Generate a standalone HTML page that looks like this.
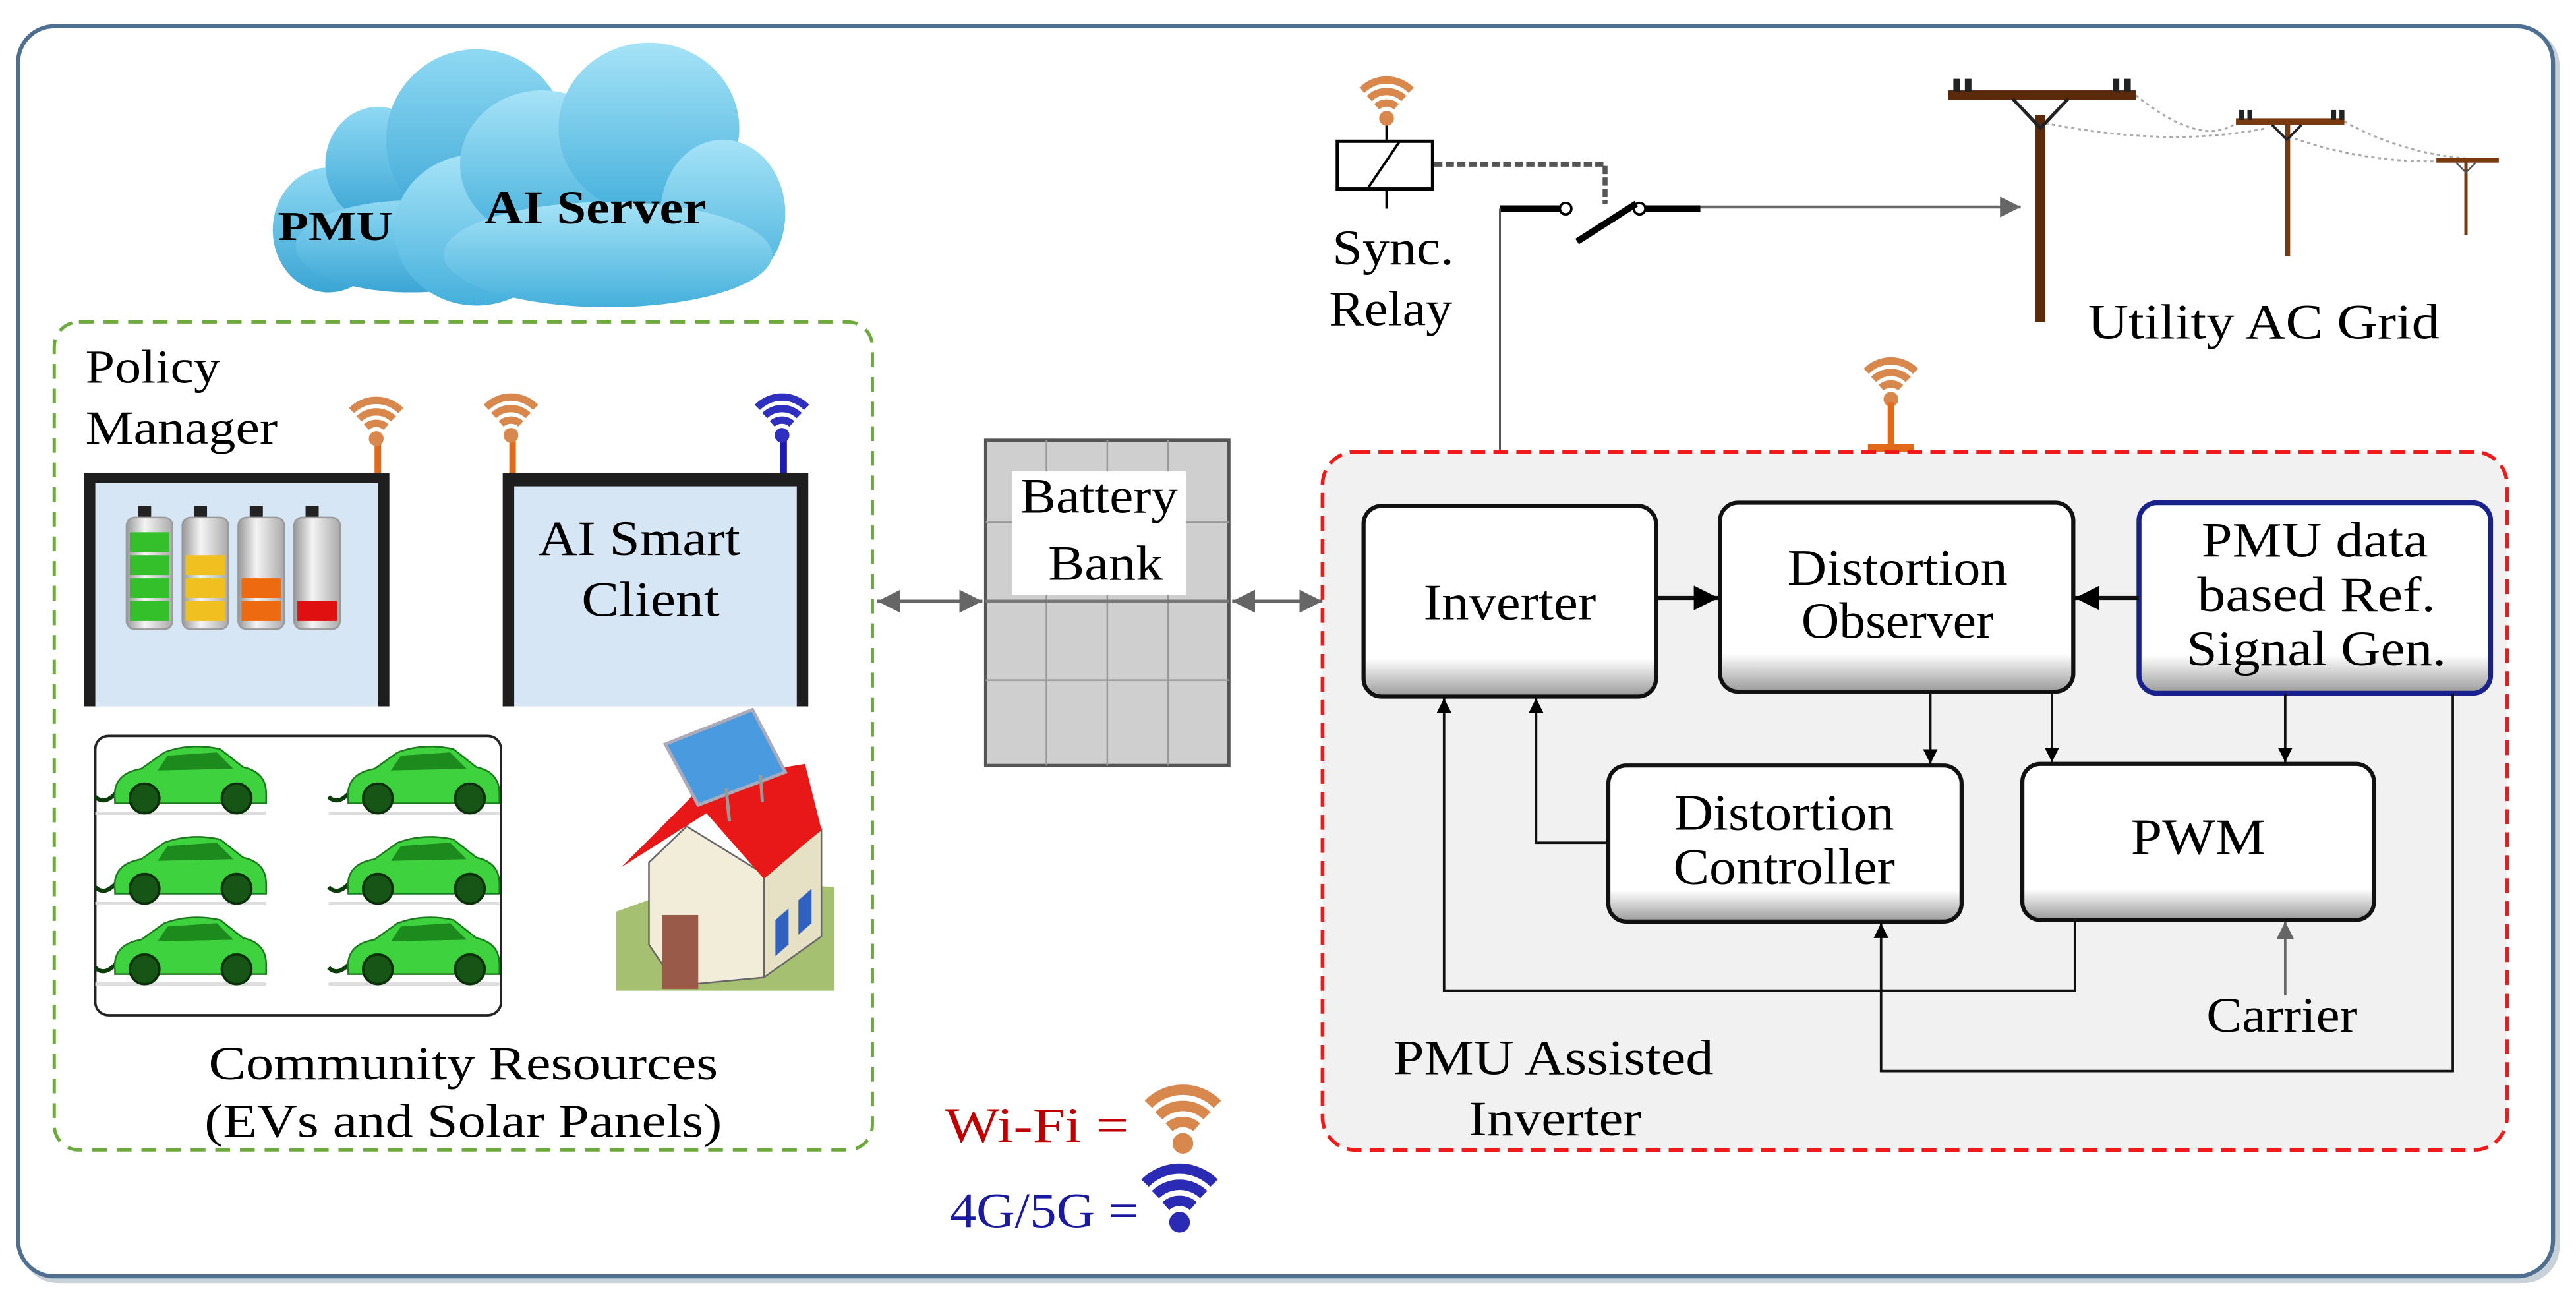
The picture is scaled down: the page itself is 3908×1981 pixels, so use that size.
<!DOCTYPE html>
<html><head><meta charset="utf-8"><style>
html,body{margin:0;padding:0;background:#fff;}
svg{display:block;}
text{font-family:"Liberation Serif",serif;fill:#000;}
</style></head><body>
<svg width="3908" height="1981" viewBox="0 0 1568 795" preserveAspectRatio="none" xmlns="http://www.w3.org/2000/svg">
<defs>
<linearGradient id="cl" x1="0" y1="0" x2="0" y2="1"><stop offset="0" stop-color="#a6e3f7"/><stop offset="1" stop-color="#45b0dc"/></linearGradient>
<linearGradient id="cl2" x1="0" y1="0" x2="0" y2="1"><stop offset="0" stop-color="#8fd9f3"/><stop offset="1" stop-color="#3aa5d4"/></linearGradient>
<linearGradient id="bx" x1="0" y1="0" x2="0" y2="1"><stop offset="0" stop-color="#fff"/><stop offset="0.8" stop-color="#fff"/><stop offset="1" stop-color="#9a9a9a"/></linearGradient>
<linearGradient id="bt" x1="0" y1="0" x2="1" y2="0"><stop offset="0" stop-color="#999"/><stop offset="0.4" stop-color="#f4f4f4"/><stop offset="1" stop-color="#aaa"/></linearGradient>
<marker id="ab" viewBox="0 0 10 10" refX="10" refY="5" markerWidth="6" markerHeight="6" orient="auto-start-reverse"><path d="M0,0L10,5L0,10Z" fill="#000"/></marker>
<marker id="ag2" viewBox="0 0 10 10" refX="10" refY="5" markerWidth="7" markerHeight="7" orient="auto-start-reverse"><path d="M0,0L10,5L0,10Z" fill="#666"/></marker>
<g id="wifi"><circle cx="0" cy="0" r="4"/><path d="M-6,-7 A9,9 0 0 1 6,-7" fill="none" stroke-width="4.5"/><path d="M-10.5,-12 A15,15 0 0 1 10.5,-12" fill="none" stroke-width="4.5"/><path d="M-15,-17 A21,21 0 0 1 15,-17" fill="none" stroke-width="4.5"/></g>
<g id="car">
<line x1="0" y1="40" x2="104" y2="40" stroke="#ddd" stroke-width="2"/>
<path d="M14,26 Q6,36 0,30" fill="none" stroke="#0b3d0b" stroke-width="2.5"/>
<path d="M12,32 Q10,16 28,13 L42,3 Q58,-3 76,1 L90,12 Q104,15 104,28 L104,34 L12,34 Z" fill="#3fd23f" stroke="#1b7a1b" stroke-width="1"/>
<path d="M44,5 L74,3 L84,13 L38,14 Z" fill="#1c8a1c"/>
<circle cx="30" cy="31" r="9" fill="#175517" stroke="#0a300a" stroke-width="1.5"/>
<circle cx="86" cy="31" r="9" fill="#175517" stroke="#0a300a" stroke-width="1.5"/>
</g>
</defs>

<!-- outer frame -->
<rect x="13" y="18" width="1545" height="763" rx="22" fill="#c8d0d8"/>
<rect x="11" y="16" width="1543" height="761" rx="22" fill="#fff" stroke="#4e6f8f" stroke-width="2.5"/>

<!-- cloud -->
<g fill="url(#cl2)">
<ellipse cx="200" cy="140" rx="34" ry="38"/><ellipse cx="230" cy="100" rx="32" ry="35"/><ellipse cx="290" cy="85" rx="55" ry="55"/><ellipse cx="250" cy="150" rx="70" ry="28"/>
</g>
<g fill="url(#cl)">
<ellipse cx="290" cy="140" rx="50" ry="46"/><ellipse cx="330" cy="100" rx="50" ry="45"/><ellipse cx="395" cy="78" rx="55" ry="52"/><ellipse cx="440" cy="130" rx="38" ry="45"/><ellipse cx="370" cy="155" rx="100" ry="32"/>
</g>
<text x="169" y="146" font-size="25" font-weight="bold" textLength="70" lengthAdjust="spacingAndGlyphs">PMU</text>
<text x="295" y="136" font-size="29" font-weight="bold" textLength="135" lengthAdjust="spacingAndGlyphs">AI Server</text>

<!-- green dashed box -->
<rect x="33" y="196" width="498" height="504" rx="15" fill="none" stroke="#6aab3c" stroke-width="2" stroke-dasharray="9,6"/>
<text x="52" y="233" font-size="29" textLength="82" lengthAdjust="spacingAndGlyphs">Policy</text>
<text x="52" y="270" font-size="29" textLength="117" lengthAdjust="spacingAndGlyphs">Manager</text>

<!-- antennas -->
<line x1="230" y1="268" x2="230" y2="290" stroke="#e06a1a" stroke-width="4"/>
<use href="#wifi" x="229" y="267" fill="#d9884d" stroke="#d9884d"/>
<line x1="312" y1="268" x2="312" y2="288" stroke="#e06a1a" stroke-width="4"/>
<use href="#wifi" x="311" y="265" fill="#d9884d" stroke="#d9884d"/>
<line x1="477" y1="268" x2="477" y2="288" stroke="#1a1ab0" stroke-width="4"/>
<use href="#wifi" x="476" y="265" fill="#3030c0" stroke="#3030c0"/>

<!-- monitor 1 -->
<rect x="51" y="288" width="186" height="142" fill="#1e1e1e"/>
<rect x="58" y="294" width="172" height="136" fill="#d6e6f4"/>
<g>
<rect x="84" y="308" width="8" height="8" fill="#222"/><rect x="77" y="315" width="28" height="68" rx="5" fill="url(#bt)" stroke="#999"/>
<rect x="79" y="324" width="24" height="12" fill="#33c02a"/><rect x="79" y="338" width="24" height="12" fill="#33c02a"/><rect x="79" y="352" width="24" height="12" fill="#33c02a"/><rect x="79" y="366" width="24" height="12" fill="#33c02a"/>
<rect x="118" y="308" width="8" height="8" fill="#222"/><rect x="111" y="315" width="28" height="68" rx="5" fill="url(#bt)" stroke="#999"/>
<rect x="113" y="338" width="24" height="12" fill="#f0c020"/><rect x="113" y="352" width="24" height="12" fill="#f0c020"/><rect x="113" y="366" width="24" height="12" fill="#f0c020"/>
<rect x="152" y="308" width="8" height="8" fill="#222"/><rect x="145" y="315" width="28" height="68" rx="5" fill="url(#bt)" stroke="#999"/>
<rect x="147" y="352" width="24" height="12" fill="#ee6a10"/><rect x="147" y="366" width="24" height="12" fill="#ee6a10"/>
<rect x="186" y="308" width="8" height="8" fill="#222"/><rect x="179" y="315" width="28" height="68" rx="5" fill="url(#bt)" stroke="#999"/>
<rect x="181" y="366" width="24" height="12" fill="#e01010"/>
</g>
<!-- monitor 2 -->
<rect x="306" y="288" width="186" height="142" fill="#1e1e1e"/>
<rect x="313" y="296" width="172" height="134" fill="#d6e6f4"/>
<text x="389" y="338" font-size="30" text-anchor="middle" textLength="123" lengthAdjust="spacingAndGlyphs">AI Smart</text>
<text x="396" y="375" font-size="30" text-anchor="middle" textLength="84" lengthAdjust="spacingAndGlyphs">Client</text>

<!-- EV box -->
<rect x="58" y="448" width="247" height="170" rx="8" fill="#fff" stroke="#222" stroke-width="1.5"/>
<use href="#car" x="58" y="455"/><use href="#car" x="200" y="455"/>
<use href="#car" x="58" y="510"/><use href="#car" x="200" y="510"/>
<use href="#car" x="58" y="559"/><use href="#car" x="200" y="559"/>

<!-- house -->
<path d="M375,555 L430,535 L508,540 L508,603 L375,603 Z" fill="#a5c070"/>
<path d="M418,503 L465,532 L465,595 L412,600 L395,575 L395,525 Z" fill="#f2edd8" stroke="#666"/>
<path d="M465,532 L500,505 L500,570 L465,595 Z" fill="#e6e0c4" stroke="#666"/>
<path d="M378,528 L418,488 L430,475 L490,465 L500,505 L465,535 L430,495 Z" fill="#e81818"/>
<rect x="403" y="557" width="22" height="45" fill="#9a5a4a"/>
<path d="M472,560 L480,553 L480,575 L472,582 Z" fill="#3060c0"/><path d="M486,548 L494,541 L494,562 L486,569 Z" fill="#3060c0"/>
<path d="M405,453 L458,432 L478,470 L425,490 Z" fill="#4a9ae0" stroke="#aab" stroke-width="2"/>
<line x1="442" y1="480" x2="444" y2="500" stroke="#999" stroke-width="2"/><line x1="463" y1="472" x2="464" y2="488" stroke="#999" stroke-width="2"/>

<text x="282" y="657" font-size="29" text-anchor="middle" textLength="310" lengthAdjust="spacingAndGlyphs">Community  Resources</text>
<text x="282" y="692" font-size="29" text-anchor="middle" textLength="315" lengthAdjust="spacingAndGlyphs">(EVs and Solar Panels)</text>

<!-- legend -->
<text x="575" y="695" font-size="30" style="fill:#c00000" textLength="112" lengthAdjust="spacingAndGlyphs">Wi-Fi =</text>
<g transform="translate(720,696) scale(1.4)"><use href="#wifi" fill="#d9884d" stroke="#d9884d"/></g>
<text x="578" y="747" font-size="30" style="fill:#1a1aa0" textLength="115" lengthAdjust="spacingAndGlyphs">4G/5G =</text>
<g transform="translate(718,744) scale(1.4)"><use href="#wifi" fill="#2a2ab5" stroke="#2a2ab5"/></g>

<!-- battery bank -->
<rect x="600" y="268" width="148" height="198" fill="#cfcfcf" stroke="#555" stroke-width="2"/>
<g stroke="#999" stroke-width="1">
<line x1="637" y1="268" x2="637" y2="466"/><line x1="674" y1="268" x2="674" y2="466"/><line x1="711" y1="268" x2="711" y2="466"/>
<line x1="600" y1="318" x2="748" y2="318"/><line x1="600" y1="366" x2="748" y2="366" stroke="#777" stroke-width="2"/><line x1="600" y1="414" x2="748" y2="414"/>
</g>
<rect x="616" y="287" width="106" height="75" fill="#fff"/>
<text x="669" y="312" font-size="30" text-anchor="middle" textLength="96" lengthAdjust="spacingAndGlyphs">Battery</text>
<text x="673" y="353" font-size="30" text-anchor="middle" textLength="70" lengthAdjust="spacingAndGlyphs">Bank</text>

<!-- double arrows -->
<line x1="534" y1="366" x2="598" y2="366" stroke="#666" stroke-width="2" marker-start="url(#ag2)" marker-end="url(#ag2)"/>
<line x1="750" y1="366" x2="805" y2="366" stroke="#666" stroke-width="2" marker-start="url(#ag2)" marker-end="url(#ag2)"/>

<!-- sync relay -->
<line x1="844" y1="75" x2="844" y2="85" stroke="#000" stroke-width="1.5"/>
<use href="#wifi" x="844" y="72" fill="#d9884d" stroke="#d9884d"/>
<rect x="814" y="86" width="58" height="29" fill="#fff" stroke="#000" stroke-width="2"/>
<line x1="833" y1="114" x2="852" y2="86" stroke="#000" stroke-width="1.5"/>
<line x1="844" y1="115" x2="844" y2="127" stroke="#000" stroke-width="1.5"/>
<path d="M873,100 L977,100 L977,124" fill="none" stroke="#555" stroke-width="3" stroke-dasharray="5,2"/>
<text x="811" y="161" font-size="30" textLength="74" lengthAdjust="spacingAndGlyphs">Sync.</text>
<text x="809" y="198" font-size="30" textLength="75" lengthAdjust="spacingAndGlyphs">Relay</text>
<line x1="913" y1="127" x2="953" y2="127" stroke="#000" stroke-width="4"/>
<line x1="997" y1="127" x2="1035" y2="127" stroke="#000" stroke-width="4"/>
<circle cx="953" cy="127" r="3.5" fill="#fff" stroke="#000" stroke-width="1.5"/>
<circle cx="998" cy="127" r="3.5" fill="#fff" stroke="#000" stroke-width="1.5"/>
<line x1="960" y1="147" x2="996" y2="124" stroke="#000" stroke-width="4"/>
<line x1="1035" y1="126" x2="1230" y2="126" stroke="#666" stroke-width="1.8" marker-end="url(#ag2)"/>
<line x1="913" y1="127" x2="913" y2="300" stroke="#555" stroke-width="1.2" marker-end="url(#ag2)"/>

<!-- poles -->
<g fill="none" stroke="#aaa" stroke-width="1.2" stroke-dasharray="2,2">
<path d="M1300,58 Q1340,90 1361,75"/><path d="M1245,75 Q1320,90 1380,78"/><path d="M1427,74 Q1470,98 1521,97"/><path d="M1393,83 Q1440,100 1490,98"/>
</g>
<rect x="1239" y="70" width="6" height="126" fill="#5a2a0a"/>
<rect x="1186" y="55" width="114" height="6" fill="#5a2a0a"/>
<path d="M1225,60 L1242,78 L1259,60" fill="none" stroke="#222" stroke-width="2"/>
<g fill="#222"><rect x="1189" y="48" width="4" height="8"/><rect x="1196" y="48" width="4" height="8"/><rect x="1286" y="48" width="4" height="8"/><rect x="1293" y="48" width="4" height="8"/></g>
<rect x="1391" y="76" width="3" height="80" fill="#7a3a10"/>
<rect x="1361" y="72" width="66" height="4" fill="#7a3a10"/>
<path d="M1383,76 L1392,85 L1401,76" fill="none" stroke="#222" stroke-width="1.5"/>
<g fill="#222"><rect x="1363" y="67" width="3" height="6"/><rect x="1368" y="67" width="3" height="6"/><rect x="1419" y="67" width="3" height="6"/><rect x="1424" y="67" width="3" height="6"/></g>
<rect x="1500" y="98" width="2" height="45" fill="#7a3a10"/>
<rect x="1483" y="96" width="38" height="3" fill="#7a3a10"/>
<path d="M1495,99 L1501,105 L1507,99" fill="none" stroke="#555" stroke-width="1"/>
<text x="1271" y="206" font-size="30" textLength="214" lengthAdjust="spacingAndGlyphs">Utility AC Grid</text>

<!-- red box antenna -->
<use href="#wifi" x="1151" y="243" fill="#d9884d" stroke="#d9884d"/>
<line x1="1151" y1="245" x2="1151" y2="271" stroke="#e06a1a" stroke-width="4"/>
<line x1="1137" y1="273" x2="1165" y2="273" stroke="#e06a1a" stroke-width="5"/>

<!-- red box -->
<rect x="805" y="275" width="721" height="425" rx="20" fill="#f1f1f1" stroke="#f01a1a" stroke-width="2.2" stroke-dasharray="9,5"/>

<!-- blocks -->
<g stroke="#111" stroke-width="2.5" fill="url(#bx)">
<rect x="830" y="308" width="178" height="116" rx="11"/>
<rect x="1047" y="306" width="215" height="115" rx="11"/>
<rect x="979" y="466" width="215" height="95" rx="11"/>
<rect x="1231" y="465" width="214" height="95" rx="11"/>
</g>
<rect x="1302" y="306" width="214" height="116" rx="11" fill="url(#bx)" stroke="#18228a" stroke-width="3"/>

<text x="919" y="377" font-size="31" text-anchor="middle" textLength="105" lengthAdjust="spacingAndGlyphs">Inverter</text>
<text x="1155" y="356" font-size="31" text-anchor="middle" textLength="134" lengthAdjust="spacingAndGlyphs">Distortion</text>
<text x="1155" y="388" font-size="31" text-anchor="middle" textLength="117" lengthAdjust="spacingAndGlyphs">Observer</text>
<text x="1409" y="339" font-size="30" text-anchor="middle" textLength="138" lengthAdjust="spacingAndGlyphs">PMU data</text>
<text x="1410" y="372" font-size="30" text-anchor="middle" textLength="145" lengthAdjust="spacingAndGlyphs">based Ref.</text>
<text x="1410" y="405" font-size="30" text-anchor="middle" textLength="158" lengthAdjust="spacingAndGlyphs">Signal  Gen.</text>
<text x="1086" y="505" font-size="31" text-anchor="middle" textLength="134" lengthAdjust="spacingAndGlyphs">Distortion</text>
<text x="1086" y="538" font-size="31" text-anchor="middle" textLength="135" lengthAdjust="spacingAndGlyphs">Controller</text>
<text x="1338" y="520" font-size="31" text-anchor="middle" textLength="82" lengthAdjust="spacingAndGlyphs">PWM</text>
<text x="1389" y="628" font-size="30" text-anchor="middle" textLength="92" lengthAdjust="spacingAndGlyphs">Carrier</text>
<text x="848" y="654" font-size="30" textLength="195" lengthAdjust="spacingAndGlyphs">PMU Assisted</text>
<text x="894" y="691" font-size="30" textLength="105" lengthAdjust="spacingAndGlyphs">Inverter</text>

<!-- connectors -->
<g fill="none" stroke="#111" stroke-width="2.5">
<line x1="1008" y1="364" x2="1046" y2="364" marker-end="url(#ab)"/>
<line x1="1302" y1="364" x2="1263" y2="364" marker-end="url(#ab)"/>
</g>
<g fill="none" stroke="#111" stroke-width="1.5">
<line x1="1175" y1="421" x2="1175" y2="465" marker-end="url(#ab)"/>
<line x1="1249" y1="421" x2="1249" y2="464" marker-end="url(#ab)"/>
<line x1="1391" y1="422" x2="1391" y2="464" marker-end="url(#ab)"/>
<path d="M1493,422 L1493,652 L1145,652 L1145,562" marker-end="url(#ab)"/>
<path d="M1263,560 L1263,603 L879,603 L879,425" marker-end="url(#ab)"/>
<path d="M979,513 L935,513 L935,425" marker-end="url(#ab)"/>
</g>
<line x1="1391" y1="606" x2="1391" y2="561" stroke="#666" stroke-width="1.5" marker-end="url(#ag2)"/>
</svg>
</body></html>
